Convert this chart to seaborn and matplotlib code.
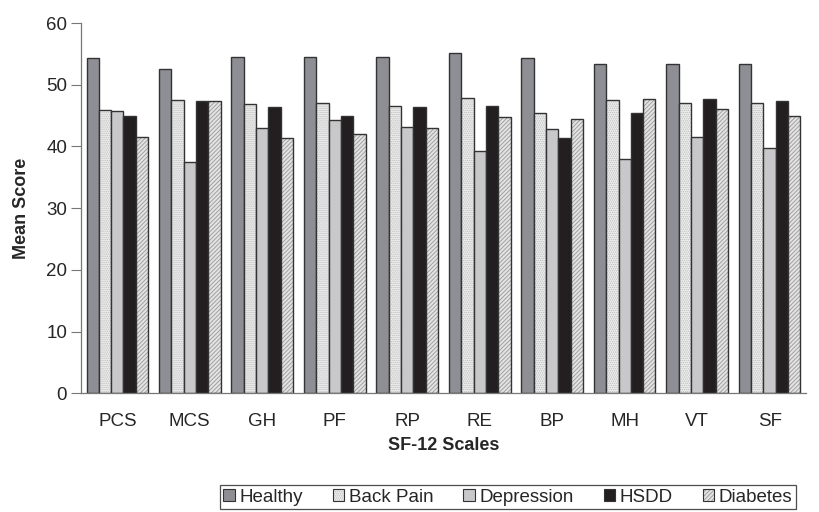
import pandas as pd
import seaborn as sns
import matplotlib.pyplot as plt
from matplotlib.colors import to_rgba
from matplotlib.patches import Patch

# SF-12 scale names and group means
scales = ['PCS', 'MCS', 'GH', 'PF', 'RP', 'RE', 'BP', 'MH', 'VT', 'SF']
groups = ['Healthy', 'Back Pain', 'Depression', 'HSDD', 'Diabetes']

healthy = [54.3, 52.5, 54.5, 54.5, 54.5, 55.2, 54.3, 53.3, 53.3, 53.3]
back_pain = [45.9, 47.5, 46.8, 47.0, 46.6, 47.8, 45.4, 47.5, 47.0, 47.0]
depression = [45.7, 37.5, 43.0, 44.3, 43.2, 39.3, 42.9, 37.9, 41.6, 39.8]
hsdd = [45.0, 47.3, 46.4, 45.0, 46.4, 46.6, 41.4, 45.4, 47.7, 47.3]
diabetes = [41.6, 47.3, 41.3, 42.0, 43.0, 44.7, 44.5, 47.7, 46.1, 45.0]

values = [healthy, back_pain, depression, hsdd, diabetes]
df = pd.DataFrame({
    'scale': scales * len(groups),
    'group': [g for g in groups for _ in scales],
    'score': [v for vals in values for v in vals],
})

colors = ['#8e8f95', '#eeeeee', '#c8c8ca', '#231f20', '#e4e4e4']
hatches = [None, '........', None, None, '////////']
hatch_colors = [None, '#bdbdbd', None, None, '#a0a0a0']

sns.set_style('white')
plt.rcParams['font.family'] = ['Liberation Sans', 'DejaVu Sans']
plt.rcParams['hatch.linewidth'] = 0.7

fig = plt.figure(figsize=(8.19, 5.12), dpi=100)
ax = fig.add_axes([0.099, 0.232, 0.885, 0.723])

sns.barplot(data=df, x='scale', y='score', hue='group', order=scales,
            hue_order=groups, palette=colors, width=0.85, saturation=1,
            edgecolor='#333333', linewidth=1.0, legend=False, ax=ax)


def add_hatch(p, h, hc):
    # hatch in a lighter colour than the bar outline
    p.set_hatch(h)
    p._hatch_color = to_rgba(hc)


handles = []
for cont, col, h, hc in zip(ax.containers, colors, hatches, hatch_colors):
    hp = Patch(facecolor=col, edgecolor='#333333', linewidth=0.8)
    if h:
        for bar in cont:
            add_hatch(bar, h, hc)
        add_hatch(hp, h, hc)
    handles.append(hp)

ax.set_xlim(-0.5, 9.5)
ax.set_ylim(0, 60)
ax.set_yticks(range(0, 61, 10))
ax.set_ylabel('Mean Score', fontsize=13, fontweight='bold', labelpad=12)
ax.set_xlabel('SF-12 Scales', fontsize=13, fontweight='bold', labelpad=5)
ax.tick_params(axis='y', labelsize=13.5, length=7, width=0.8, color='#777777',
               left=True, pad=3)
ax.tick_params(axis='x', labelsize=13.5, length=0, pad=14)
for s in ['top', 'right']:
    ax.spines[s].set_visible(False)
for s in ['left', 'bottom']:
    ax.spines[s].set_color('#777777')
    ax.spines[s].set_linewidth(0.9)

leg = fig.legend(handles, groups, loc='center', bbox_to_anchor=(0.62, 0.029),
                 ncol=5, fontsize=13.5, frameon=True, fancybox=False,
                 handlelength=0.6, handleheight=0.6, handletextpad=0.25,
                 columnspacing=1.6, borderpad=0.2, edgecolor='#222222')
leg.get_frame().set_linewidth(0.9)

fig.savefig('out.png', dpi=100)
